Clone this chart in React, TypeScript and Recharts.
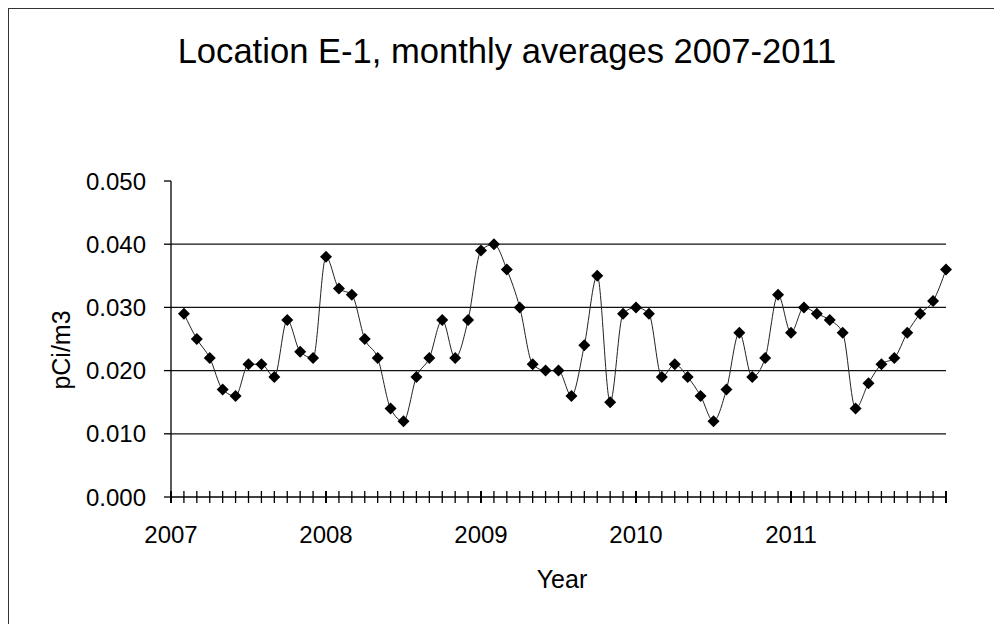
import { LineChart, Line, XAxis, YAxis, ReferenceLine } from 'recharts';

// monthly averages, pCi/m3
const years = [2007, 2008, 2009, 2010, 2011];
const yearLabels = ['2007', '2008', '2009', '2010', '2011'];
const values2007 = [0.029, 0.025, 0.022, 0.017, 0.016, 0.021, 0.021, 0.019, 0.028, 0.023, 0.022, 0.038];
const values2008 = [0.033, 0.032, 0.025, 0.022, 0.014, 0.012, 0.019, 0.022, 0.028, 0.022, 0.028, 0.039];
const values2009 = [0.040, 0.036, 0.030, 0.021, 0.020, 0.020, 0.016, 0.024, 0.035, 0.015, 0.029, 0.030];
const values2010 = [0.029, 0.019, 0.021, 0.019, 0.016, 0.012, 0.017, 0.026, 0.019, 0.022, 0.032, 0.026];
const values2011 = [0.030, 0.029, 0.028, 0.026, 0.014, 0.018, 0.021, 0.022, 0.026, 0.029, 0.031, 0.036];
const yTicks = [0, 0.01, 0.02, 0.03, 0.04, 0.05];
const gridValues = [0.01, 0.02, 0.03, 0.04];

const valuesByYear = [values2007, values2008, values2009, values2010, values2011];

// points sit at the end of each month on a date axis
const data = years.flatMap((yr, i) =>
  valuesByYear[i].map((v, m) => ({ x: yr + (m + 1) / 12, value: v }))
);

const monthTicks = [years[0], ...data.map(d => d.x)];

const FONT = '"Liberation Sans", Arial, Helvetica, sans-serif';

const MonthTick = (props: any) => {
  const { x, y, payload } = props;
  const v = payload.value as number;
  const yr = Math.round(v);
  const isYear = Math.abs(v - yr) < 1e-6;
  const idx = years.indexOf(yr);
  const label = isYear && idx >= 0 ? yearLabels[idx] : null;
  return (
    <g>
      <line x1={x} x2={x} y1={y - 6} y2={y + 6} stroke="#000" strokeWidth={isYear ? 2 : 1.3} />
      {label && (
        <text x={x} y={y + 46} textAnchor="middle" fontSize={24} fontFamily={FONT} fill="#000">
          {label}
        </text>
      )}
    </g>
  );
};

const Diamond = (props: any) => {
  const { cx, cy } = props;
  if (cx == null || cy == null) return null;
  return (
    <polygon
      points={`${cx},${cy - 6} ${cx + 6},${cy} ${cx},${cy + 6} ${cx - 6},${cy}`}
      fill="#000"
    />
  );
};

export default function App() {
  return (
    <div style={{ position: 'relative', width: 992, height: 616, overflow: 'hidden', background: '#fff' }}>
      <div
        style={{
          position: 'absolute',
          left: 0,
          top: 0,
          width: 990,
          height: 640,
          border: '1px solid #333',
        }}
      />
      <div style={{ position: 'absolute', left: 0, top: 0 }}>
        <LineChart
          width={992}
          height={616}
          data={data}
          margin={{ top: 173, right: 54, bottom: 87, left: 0 }}
        >
          <XAxis
            type="number"
            dataKey="x"
            domain={[2007, 2012]}
            ticks={monthTicks}
            interval={0}
            tick={<MonthTick />}
            tickLine={false}
            tickSize={0}
            tickMargin={0}
            height={40}
            axisLine={{ stroke: '#000', strokeWidth: 1.3 }}
          />
          <YAxis
            type="number"
            domain={[0, 0.05]}
            ticks={yTicks}
            interval={0}
            width={163}
            tickFormatter={(v: number) => v.toFixed(3)}
            tick={{ fontSize: 24, fontFamily: FONT, fill: '#000' }}
            tickSize={7}
            tickMargin={18}
            tickLine={{ stroke: '#000', strokeWidth: 1.3 }}
            axisLine={{ stroke: '#000', strokeWidth: 1.3 }}
          />
          {gridValues.map(g => (
            <ReferenceLine key={g} y={g} stroke="#111" strokeWidth={1.3} />
          ))}
          <Line
            dataKey="value"
            type="monotone"
            stroke="#222"
            strokeWidth={1}
            dot={<Diamond />}
            activeDot={false}
            isAnimationActive={false}
          />
        </LineChart>
      </div>
      <svg
        width={992}
        height={616}
        style={{ position: 'absolute', left: 0, top: 0, pointerEvents: 'none' }}
      >
        <text x={499} y={55} textAnchor="middle" fontSize={34.6} fontFamily={FONT} fill="#000">
          Location E-1, monthly averages 2007-2011
        </text>
        <text
          transform="translate(62, 342) rotate(-90)"
          textAnchor="middle"
          fontSize={25}
          fontFamily={FONT}
          fill="#000"
        >
          pCi/m3
        </text>
        <text x={554} y={580} textAnchor="middle" fontSize={25} fontFamily={FONT} fill="#000">
          Year
        </text>
      </svg>
    </div>
  );
}
